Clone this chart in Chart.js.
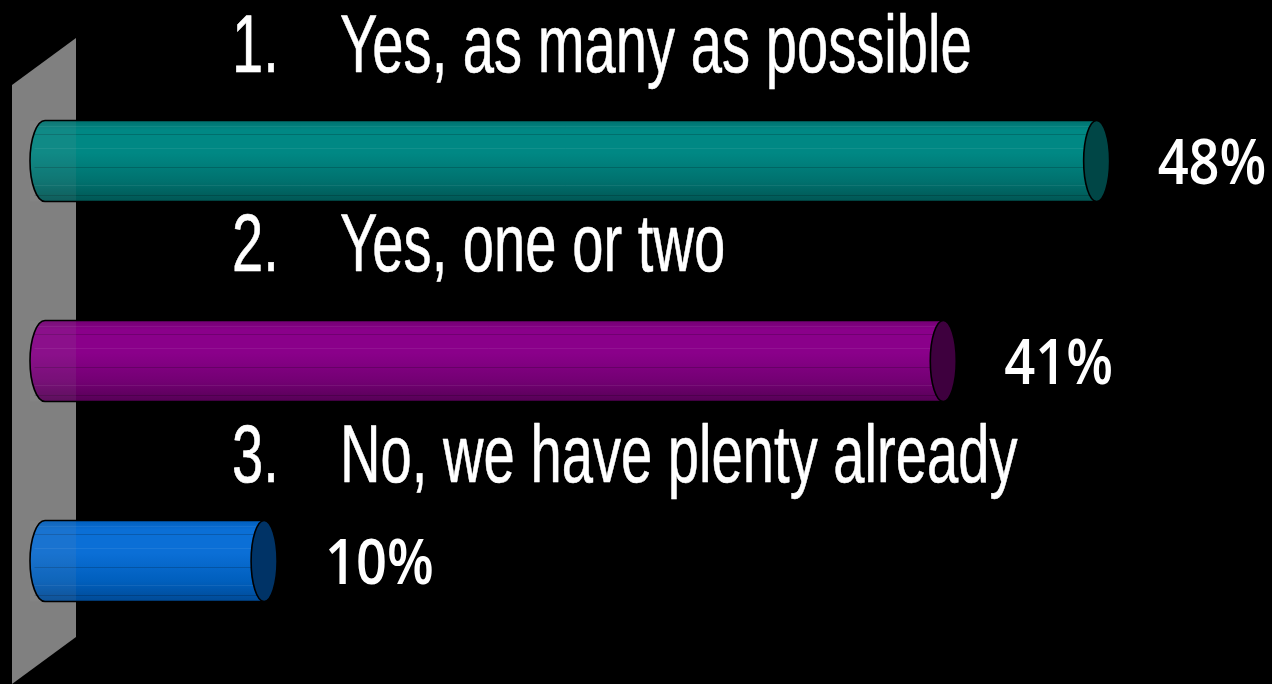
<!DOCTYPE html>
<html>
<head>
<meta charset="utf-8">
<script src="https://cdn.jsdelivr.net/npm/chart.js@4"></script>
<style>
  html, body { margin: 0; padding: 0; background: #000; }
  canvas { display: block; }
</style>
</head>
<body>
<canvas id="pollChart" width="1272" height="684"></canvas>
<script>
// data
const categories = ['Yes, as many as possible', 'Yes, one or two', 'No, we have plenty already'];
const numbers = ['1.', '2.', '3.'];
const percents = [48, 41, 10];

// cylinder shades (top of body, bottom of body, end cap)
const shades = [
    { top: '#008884', mid: '#00716e', bottom: '#005654', cap: '#004646' },
    { top: '#8a008a', mid: '#730073', bottom: '#560056', cap: '#3e003e' },
    { top: '#0b6fd6', mid: '#005fbd', bottom: '#004a96', cap: '#003366' }
];

const BAR_H = 81;

// gray 3D wall behind the bars
const wallPlugin = {
    id: 'wall',
    beforeDatasetsDraw(chart) {
        const ctx = chart.ctx;
        ctx.save();
        ctx.fillStyle = '#808080';
        ctx.beginPath();
        ctx.moveTo(12, 85);
        ctx.lineTo(76, 38);
        ctx.lineTo(76, 637);
        ctx.lineTo(12, 684);
        ctx.closePath();
        ctx.fill();
        ctx.restore();
    }
};

function bodyGradient(ctx, yc, i) {
    const s = shades[i];
    const g = ctx.createLinearGradient(0, yc - BAR_H / 2, 0, yc + BAR_H / 2);
    g.addColorStop(0, s.mid);
    g.addColorStop(0.12, s.top);
    g.addColorStop(0.4, s.top);
    g.addColorStop(0.75, s.mid);
    g.addColorStop(1, s.bottom);
    return g;
}

// turn the flat bars into cylinders: left rounded end, facets, outline, right cap
const cylinderPlugin = {
    id: 'cylinder',
    afterDatasetsDraw(chart) {
        const ctx = chart.ctx;
        const meta = chart.getDatasetMeta(0);
        meta.data.forEach((el, i) => {
            const { x, y, base } = el.getProps(['x', 'y', 'base'], true);
            const h = BAR_H;
            const top = y - h / 2, bottom = y + h / 2;
            const rx = 15;
            ctx.save();

            // left rounded end
            ctx.fillStyle = bodyGradient(ctx, y, i);
            ctx.beginPath();
            ctx.ellipse(base, y, rx, h / 2, 0, Math.PI / 2, Math.PI * 1.5);
            ctx.closePath();
            ctx.fill();

            // facet lines
            ctx.lineWidth = 1;
            [0.07, 0.17, 0.34, 0.58, 0.8, 0.92].forEach((f, k) => {
                ctx.strokeStyle = k % 2 ? 'rgba(0,0,0,0.18)' : 'rgba(255,255,255,0.07)';
                const yy = Math.round(top + f * h) + 0.5;
                ctx.beginPath();
                ctx.moveTo(base - rx * 0.7, yy);
                ctx.lineTo(x, yy);
                ctx.stroke();
            });

            // slight wash where the bar passes the wall
            ctx.fillStyle = 'rgba(160,160,160,0.10)';
            ctx.fillRect(base - rx, top, 76 - (base - rx), h);

            // outline of body
            ctx.strokeStyle = '#000';
            ctx.lineWidth = 1.6;
            ctx.beginPath();
            ctx.moveTo(x, top);
            ctx.lineTo(base, top);
            ctx.ellipse(base, y, rx, h / 2, 0, Math.PI * 1.5, Math.PI / 2, true);
            ctx.lineTo(x, bottom);
            ctx.stroke();

            // right end cap
            ctx.fillStyle = shades[i].cap;
            ctx.beginPath();
            ctx.ellipse(x, y, 13, h / 2, 0, 0, Math.PI * 2);
            ctx.fill();
            ctx.stroke();
            ctx.restore();
        });
    }
};

// category text above each bar and the percentage to its right
const labelPlugin = {
    id: 'labels',
    afterDraw(chart, args, opts) {
        const ctx = chart.ctx;
        const meta = chart.getDatasetMeta(0);
        ctx.save();
        ctx.fillStyle = '#fff';
        ctx.strokeStyle = '#fff';
        ctx.lineJoin = 'round';
        ctx.textBaseline = 'alphabetic';
        ctx.textAlign = 'left';
        meta.data.forEach((el, i) => {
            const baseline = el.y - opts.labelOffsets[i];
            ctx.font = '82px "Liberation Sans", Arial, sans-serif';
            ctx.lineWidth = 0.6;
            [[numbers[i], opts.numberX], [categories[i], opts.textX]].forEach(([t, tx]) => {
                ctx.save();
                ctx.translate(tx, baseline);
                ctx.scale(opts.textSqueeze, 1);
                ctx.fillText(t, 0, 0);
                ctx.strokeText(t, 0, 0);
                ctx.restore();
            });

            ctx.font = '600 63px "Open Sans", "Noto Sans", sans-serif';
            ctx.save();
            ctx.translate(el.x + opts.pctGap, el.y + 23);
            ctx.scale(opts.pctSqueeze, 1);
            ctx.fillText(percents[i] + '%', 0, 0);
            ctx.restore();
        });
        ctx.restore();
    }
};

const ctx = document.getElementById('pollChart').getContext('2d');
const pollChart = new Chart(ctx, {
    type: 'bar',
    data: {
        labels: categories,
        datasets: [{
            data: percents,
            barThickness: BAR_H,
            borderWidth: 0,
            backgroundColor: function (c) {
                const ys = c.chart.scales.y;
                if (!ys || !c.chart.chartArea) return shades[c.dataIndex].mid;
                return bodyGradient(c.chart.ctx, ys.getPixelForValue(c.dataIndex), c.dataIndex);
            }
        }]
    },
    options: {
        indexAxis: 'y',
        responsive: false,
        animation: false,
        layout: { padding: { left: 45, right: 22, top: 61, bottom: 23 } },
        scales: {
            x: { display: false, min: 0, max: 55 },
            y: { display: false }
        },
        plugins: {
            legend: { display: false },
            tooltip: { enabled: false },
            labels: {
                labelOffsets: [89, 90, 79],
                numberX: 232,
                textX: 340,
                textSqueeze: 0.685,
                pctGap: 61,
                pctSqueeze: 0.86
            }
        }
    },
    plugins: [wallPlugin, cylinderPlugin, labelPlugin]
});
</script>
</body>
</html>
